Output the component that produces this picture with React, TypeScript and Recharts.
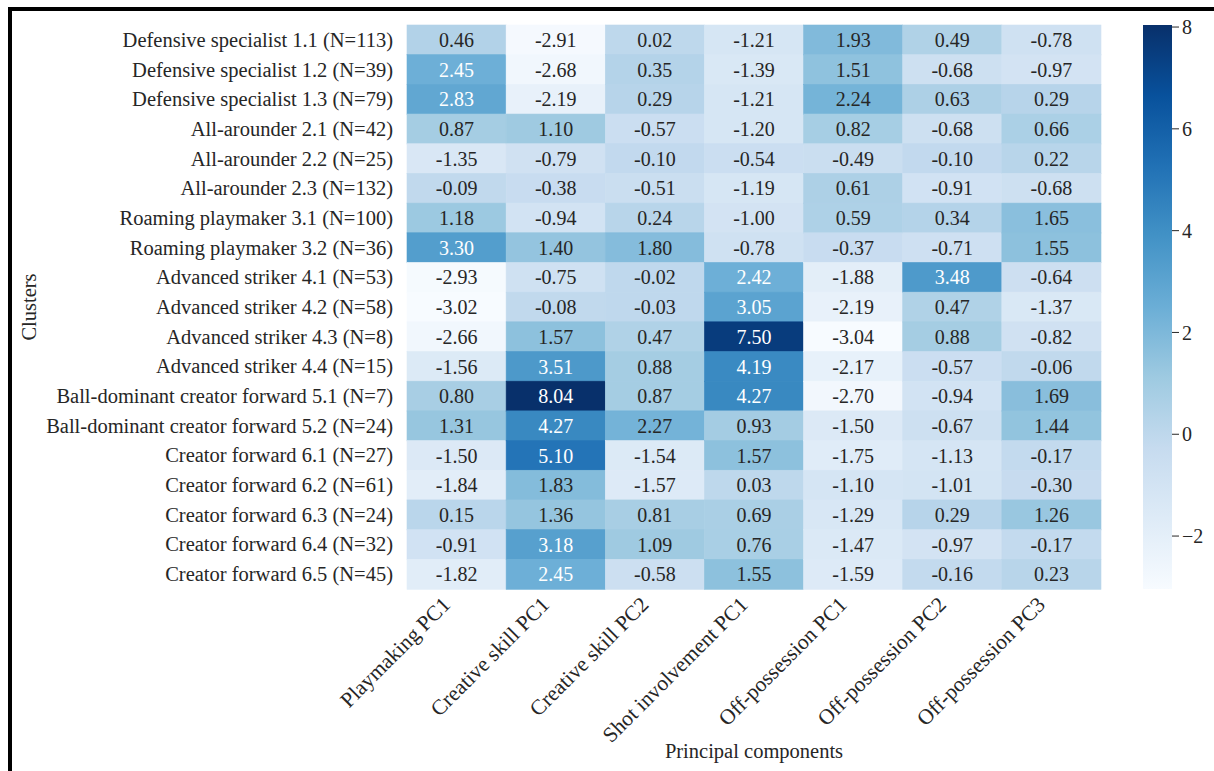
import React from 'react';
import { BarChart, Bar, XAxis, YAxis } from 'recharts';

const clusters = [
  'Defensive specialist 1.1 (N=113)',
  'Defensive specialist 1.2 (N=39)',
  'Defensive specialist 1.3 (N=79)',
  'All-arounder 2.1 (N=42)',
  'All-arounder 2.2 (N=25)',
  'All-arounder 2.3 (N=132)',
  'Roaming playmaker 3.1 (N=100)',
  'Roaming playmaker 3.2 (N=36)',
  'Advanced striker 4.1 (N=53)',
  'Advanced striker 4.2 (N=58)',
  'Advanced striker 4.3 (N=8)',
  'Advanced striker 4.4 (N=15)',
  'Ball-dominant creator forward 5.1 (N=7)',
  'Ball-dominant creator forward 5.2 (N=24)',
  'Creator forward 6.1 (N=27)',
  'Creator forward 6.2 (N=61)',
  'Creator forward 6.3 (N=24)',
  'Creator forward 6.4 (N=32)',
  'Creator forward 6.5 (N=45)',
];

const components = [
  'Playmaking PC1',
  'Creative skill PC1',
  'Creative skill PC2',
  'Shot involvement PC1',
  'Off-possession PC1',
  'Off-possession PC2',
  'Off-possession PC3',
];

// one array per principal component, rows in cluster order
const playmakingPC1 = [0.46, 2.45, 2.83, 0.87, -1.35, -0.09, 1.18, 3.30, -2.93, -3.02, -2.66, -1.56, 0.80, 1.31, -1.50, -1.84, 0.15, -0.91, -1.82];
const creativeSkillPC1 = [-2.91, -2.68, -2.19, 1.10, -0.79, -0.38, -0.94, 1.40, -0.75, -0.08, 1.57, 3.51, 8.04, 4.27, 5.10, 1.83, 1.36, 3.18, 2.45];
const creativeSkillPC2 = [0.02, 0.35, 0.29, -0.57, -0.10, -0.51, 0.24, 1.80, -0.02, -0.03, 0.47, 0.88, 0.87, 2.27, -1.54, -1.57, 0.81, 1.09, -0.58];
const shotInvolvementPC1 = [-1.21, -1.39, -1.21, -1.20, -0.54, -1.19, -1.00, -0.78, 2.42, 3.05, 7.50, 4.19, 4.27, 0.93, 1.57, 0.03, 0.69, 0.76, 1.55];
const offPossessionPC1 = [1.93, 1.51, 2.24, 0.82, -0.49, 0.61, 0.59, -0.37, -1.88, -2.19, -3.04, -2.17, -2.70, -1.50, -1.75, -1.10, -1.29, -1.47, -1.59];
const offPossessionPC2 = [0.49, -0.68, 0.63, -0.68, -0.10, -0.91, 0.34, -0.71, 3.48, 0.47, 0.88, -0.57, -0.94, -0.67, -1.13, -1.01, 0.29, -0.97, -0.16];
const offPossessionPC3 = [-0.78, -0.97, 0.29, 0.66, 0.22, -0.68, 1.65, 1.55, -0.64, -1.37, -0.82, -0.06, 1.69, 1.44, -0.17, -0.30, 1.26, -0.17, 0.23];

const colorbarTicks = [-2, 0, 2, 4, 6, 8];

const columns = [playmakingPC1, creativeSkillPC1, creativeSkillPC2, shotInvolvementPC1, offPossessionPC1, offPossessionPC2, offPossessionPC3];
const rows = clusters.map((cluster, i) => ({ cluster, values: columns.map((c) => c[i]) }));

const all = columns.flat();
const vmin = Math.min(...all);
const vmax = Math.max(...all);

const FONT = "'Liberation Serif', 'Times New Roman', serif";
const INK = '#262626';

const BLUES = ['#f7fbff', '#deebf7', '#c6dbef', '#9ecae1', '#6baed6', '#4292c6', '#2171b5', '#08519c', '#08306b'];

const hex = (h: string) => [1, 3, 5].map((k) => parseInt(h.slice(k, k + 2), 16));

function bluesRgb(v: number) {
  const t = (v - vmin) / (vmax - vmin);
  const idx = Math.max(0, Math.min(255, Math.floor(t * 256)));
  const pos = (idx / 255) * 8;
  const i = Math.min(7, Math.floor(pos));
  const f = pos - i;
  const a = hex(BLUES[i]);
  const b = hex(BLUES[i + 1]);
  return a.map((c, k) => c + (b[k] - c) * f);
}

function luminance(rgb: number[]) {
  const lin = rgb.map((c) => {
    const s = c / 255;
    return s <= 0.03928 ? s / 12.92 : Math.pow((s + 0.055) / 1.055, 2.4);
  });
  return 0.2126 * lin[0] + 0.7152 * lin[1] + 0.0722 * lin[2];
}

const HeatCell = (props: any) => {
  const { x, y, width, height, value } = props;
  const rgb = bluesRgb(value);
  const fill = `rgb(${rgb.map((c) => Math.round(c)).join(',')})`;
  const textFill = luminance(rgb) > 0.408 ? INK : '#ffffff';
  return (
    <g>
      <rect x={x} y={y} width={width} height={height} fill={fill} stroke={fill} strokeWidth={0.6} />
      <text
        x={x + width / 2}
        y={y + height / 2}
        textAnchor="middle"
        dominantBaseline="central"
        fill={textFill}
        fontFamily={FONT}
        fontSize={20}
      >
        {value.toFixed(2)}
      </text>
    </g>
  );
};

const YTick = ({ x, y, payload }: any) => (
  <text x={x} y={y} textAnchor="end" dominantBaseline="central" fill={INK} fontFamily={FONT} fontSize={20.5}>
    {payload.value}
  </text>
);

const XTick = ({ x, y, payload }: any) => {
  const label = components[Math.floor(payload.value)];
  const tx = x - 5;
  return (
    <text x={tx} y={y} transform={`rotate(-45, ${tx}, ${y})`} textAnchor="end" fill={INK} fontFamily={FONT} fontSize={21.5}>
      {label}
    </text>
  );
};

const fmtTick = (v: number) => (v < 0 ? `\u2212${-v}` : `${v}`);

export default function App() {
  return (
    <div style={{ position: 'absolute', left: 0, top: 0, width: 1214, height: 771, background: '#fff', overflow: 'hidden' }}>
      <div
        style={{
          position: 'absolute',
          left: 8,
          top: 7,
          right: -10,
          bottom: -10,
          borderTop: '4px solid #000',
          borderLeft: '4px solid #000',
        }}
      />
      <div style={{ position: 'absolute', left: 0, top: 0 }}>
        <BarChart
          width={1214}
          height={771}
          data={rows}
          layout="vertical"
          barCategoryGap={0}
          margin={{ top: 25, right: 113, bottom: 0, left: 0 }}
        >
          <YAxis
            type="category"
            dataKey="cluster"
            width={407}
            axisLine={false}
            tickLine={false}
            tickSize={6}
            tickMargin={8}
            interval={0}
            tick={<YTick />}
            label={{
              content: (p: any) => (
                <text
                  x={36}
                  y={p.viewBox.y + p.viewBox.height / 2}
                  transform={`rotate(-90, 36, ${p.viewBox.y + p.viewBox.height / 2})`}
                  textAnchor="middle"
                  fill={INK}
                  fontFamily={FONT}
                  fontSize={20.5}
                >
                  Clusters
                </text>
              ),
            }}
          />
          <XAxis
            type="number"
            domain={[0, components.length]}
            ticks={components.map((_, j) => j + 0.5)}
            height={182}
            axisLine={false}
            tickLine={false}
            tickSize={6}
            tickMargin={11}
            interval={0}
            tick={<XTick />}
            label={{
              content: (p: any) => (
                <text
                  x={p.viewBox.x + p.viewBox.width / 2}
                  y={p.viewBox.y + 169}
                  textAnchor="middle"
                  fill={INK}
                  fontFamily={FONT}
                  fontSize={20.5}
                >
                  Principal components
                </text>
              ),
            }}
          />
          {columns.map((_, j) => (
            <Bar
              key={components[j]}
              dataKey={() => 1}
              stackId="heat"
              isAnimationActive={false}
              shape={(p: any) => <HeatCell {...p} value={p.payload.values[j]} />}
            />
          ))}
        </BarChart>
      </div>
      <div style={{ position: 'absolute', left: 1143, top: 0 }}>
        <BarChart
          width={71}
          height={771}
          data={[{ name: 'cb', span: [vmin, vmax] }]}
          barCategoryGap={0}
          margin={{ top: 25, right: 0, bottom: 182, left: 0 }}
        >
          <defs>
            <linearGradient id="bluesGrad" x1="0" y1="1" x2="0" y2="0">
              {BLUES.map((c, i) => (
                <stop key={c} offset={`${(i / 8) * 100}%`} stopColor={c} />
              ))}
            </linearGradient>
          </defs>
          <XAxis type="category" dataKey="name" hide />
          <YAxis
            type="number"
            orientation="right"
            domain={[vmin, vmax]}
            ticks={colorbarTicks}
            allowDataOverflow
            width={42}
            axisLine={false}
            tickLine={{ stroke: INK, strokeWidth: 1 }}
            tickSize={7}
            tickMargin={3}
            tickFormatter={fmtTick}
            tick={{ fill: INK, fontFamily: FONT, fontSize: 20, textAnchor: 'start' }}
          />
          <Bar dataKey="span" fill="url(#bluesGrad)" isAnimationActive={false} />
        </BarChart>
      </div>
    </div>
  );
}
